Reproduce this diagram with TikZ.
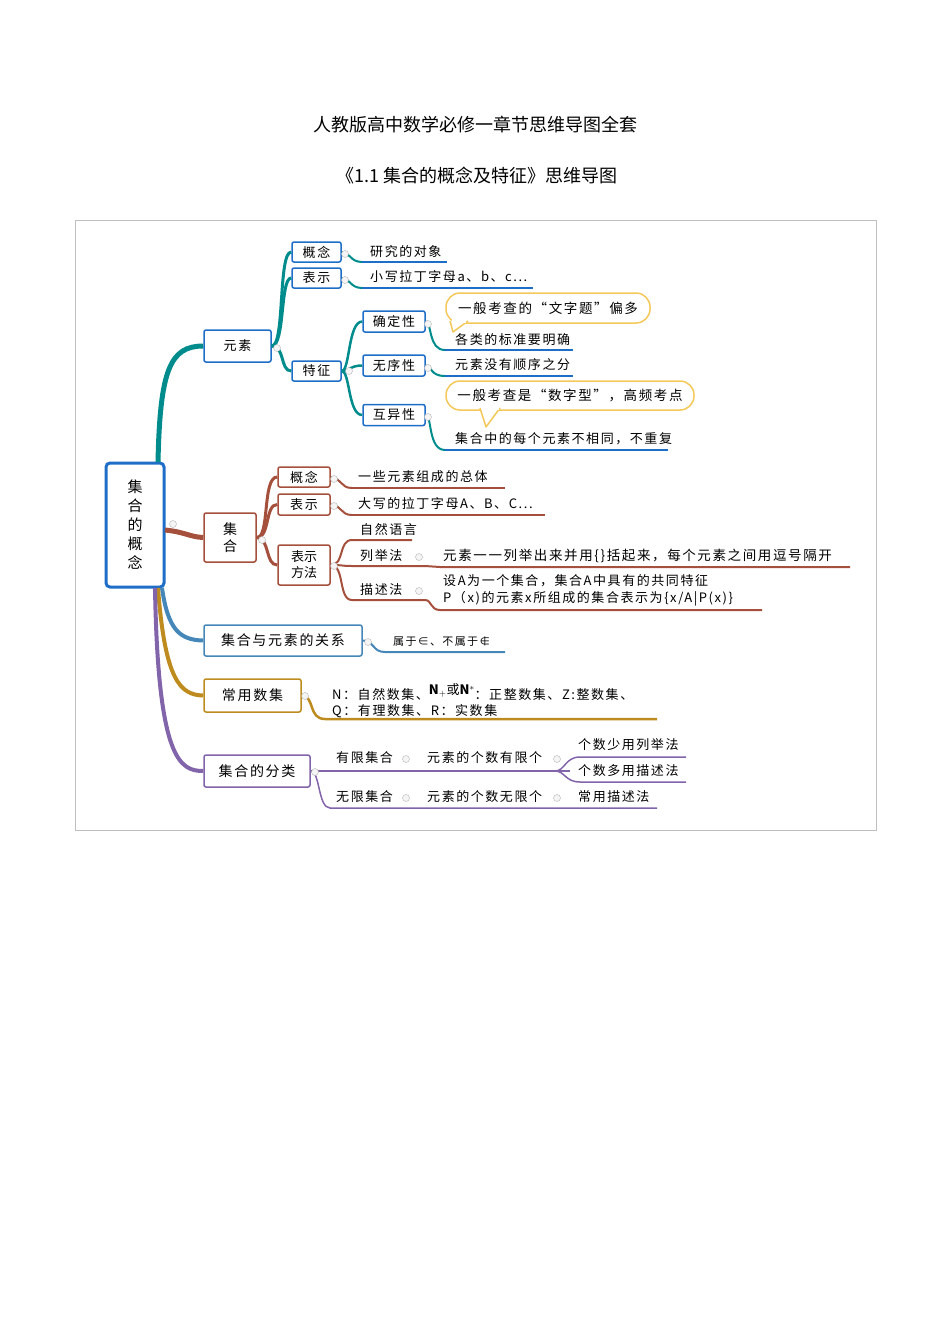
\documentclass[tikz,border=0pt]{standalone}
\usepackage{fontspec}
\setmainfont{Noto Sans CJK SC}
\newfontfamily\wide[LetterSpace=12]{Noto Sans CJK SC}
\definecolor{cT}{RGB}{0,140,140}
\definecolor{cB}{RGB}{165,80,60}
\definecolor{cS}{RGB}{70,135,185}
\definecolor{cG}{RGB}{190,140,30}
\definecolor{cP}{RGB}{130,100,170}
\definecolor{cN}{RGB}{30,110,200}
\definecolor{cY}{RGB}{245,200,90}
\begin{document}
\begin{tikzpicture}[x=1pt,y=-1pt,
  box/.style={draw=#1,line width=1.5pt,rounded corners=2pt,fill=white,inner sep=0pt,align=center,font=\wide\fontsize{13}{15}\selectfont},
  lbl/.style={anchor=west,inner sep=0pt,font=\wide\fontsize{13}{16}\selectfont,align=left},
  knob/.style={circle,draw=gray!60,fill=gray!8,inner sep=0pt,minimum size=7pt},
  bubble/.style={draw=cY,line width=1.5pt,fill=white,rounded corners=14pt,font=\wide\fontsize{13.5}{15}\selectfont}]
\useasboundingbox (0,0) rectangle (950,1344);
\node[font=\fontsize{18}{20}\selectfont] (t1) at (475,125) {人教版高中数学必修一章节思维导图全套};
\node[font=\fontsize{18}{20}\selectfont] (t2) at (477,176) {《1.1 集合的概念及特征》思维导图};
\draw[gray!50] (75,220) rectangle (876,830);

% root
\node[draw=cN,line width=3pt,rounded corners=4pt,minimum width=58pt,minimum height=124pt,align=center,font=\fontsize{15}{19}\selectfont] (root) at (135,525) {集\\合\\的\\概\\念};

% ---- 元素 (teal)
\node[box=cN,minimum width=67pt,minimum height=32pt] (ys) at (237.5,346) {元素};
\draw[cT,line width=5pt] (158,462) .. controls (160,370) and (170,346) .. (ys.west);
\node[box=cN,minimum width=49pt,minimum height=20pt] (gn1) at (316.5,252) {概念};
\node[box=cN,minimum width=49pt,minimum height=20pt] (bs1) at (316.5,278) {表示};
\node[box=cN,minimum width=49pt,minimum height=20pt] (tz) at (316.5,371) {特征};
\draw[cT,line width=3pt] (ys.east) .. controls (285,346) and (278,252) .. (gn1.west);
\draw[cT,line width=3pt] (ys.east) .. controls (285,346) and (280,278) .. (bs1.west);
\draw[cT,line width=3pt] (ys.east) .. controls (285,346) and (280,371) .. (tz.west);
\node[lbl] (a1) at (370,252) {研究的对象};
\node[lbl] (a2) at (370,277) {小写拉丁字母a、b、c...};
\draw[cT,line width=2pt] (gn1.east) .. controls (350,252) and (350,262) .. (362,262);
\draw[cN,line width=1.5pt] (362,262) -- (447,262);
\draw[cT,line width=2pt] (bs1.east) .. controls (350,278) and (350,288) .. (362,288);
\draw[cN,line width=1.5pt] (362,288) -- (533,288);
\node[box=cN,minimum width=62pt,minimum height=21pt] (qd) at (394,321.5) {确定性};
\node[box=cN,minimum width=62pt,minimum height=21pt] (wx) at (394,365.5) {无序性};
\node[box=cN,minimum width=62pt,minimum height=21pt] (hy) at (394,415) {互异性};
\draw[cT,line width=2.5pt] (tz.east) .. controls (350,371) and (348,321.5) .. (qd.west);
\draw[cT,line width=2.5pt] (tz.east) .. controls (350,371) and (350,365.5) .. (wx.west);
\draw[cT,line width=2.5pt] (tz.east) .. controls (350,371) and (348,415) .. (hy.west);
\node[lbl] (b1) at (455,340) {各类的标准要明确};
\node[lbl] (b2) at (455,365) {元素没有顺序之分};
\node[lbl] (b3) at (455,439) {集合中的每个元素不相同，不重复};
\draw[cT,line width=2pt] (qd.east) .. controls (432,322) and (428,350) .. (445,350);
\draw[cN,line width=1.5pt] (445,350) -- (573,350);
\draw[cT,line width=2pt] (wx.east) .. controls (432,366) and (430,376) .. (445,376);
\draw[cN,line width=1.5pt] (445,376) -- (573,376);
\draw[cT,line width=2pt] (hy.east) .. controls (432,415) and (428,450) .. (445,450);
\draw[cN,line width=1.5pt] (445,450) -- (668,450);
% callouts
\node[bubble,minimum width=204pt,minimum height=30pt] (c1) at (548,308) {一般考查的“文字题”偏多};
\filldraw[draw=cY,fill=white,line width=1.5pt,line join=round] (450,321) -- (453,332) -- (468,321);
\fill[white] (451.5,319) rectangle (466,322.5);
\node[bubble,minimum width=248pt,minimum height=29pt] (c2) at (570,395.5) {一般考查是“数字型”，高频考点};
\filldraw[draw=cY,fill=white,line width=1.5pt,line join=round] (480,408) -- (486,427) -- (500,408);
\fill[white] (481.5,406) rectangle (498.5,409.5);
\foreach \p in {(345,254),(345,280),(277,348),(349,371),(428,324),(428,368),(428,417)} \node[knob] at \p {};

% ---- 集合 (brown)
\node[box=cB,minimum width=52pt,minimum height=49pt,font=\fontsize{14}{17}\selectfont] (jh) at (230,537.5) {集\\合};
\draw[cB,line width=5pt] (165,530) .. controls (185,532) and (190,537) .. (jh.west);
\node[box=cB,minimum width=52pt,minimum height=20pt] (gn2) at (304,477) {概念};
\node[box=cB,minimum width=52pt,minimum height=21pt] (bs2) at (304,504.5) {表示};
\node[box=cB,minimum width=52pt,minimum height=40pt,font=\fontsize{13}{16}\selectfont] (bsff) at (304,565) {表示\\方法};
\draw[cB,line width=3pt] (jh.east) .. controls (270,538) and (262,477) .. (gn2.west);
\draw[cB,line width=3pt] (jh.east) .. controls (270,538) and (265,504) .. (bs2.west);
\draw[cB,line width=3pt] (jh.east) .. controls (270,538) and (265,565) .. (bsff.west);
\node[lbl] (d1) at (358,477) {一些元素组成的总体};
\node[lbl] (d2) at (358,504) {大写的拉丁字母A、B、C...};
\draw[cB,line width=2pt] (gn2.east) .. controls (342,478) and (340,488) .. (352,488);
\draw[cB,line width=1.5pt] (352,488) -- (505,488);
\draw[cB,line width=2pt] (bs2.east) .. controls (342,505) and (340,515) .. (352,515);
\draw[cB,line width=1.5pt] (352,515) -- (545,515);
\node[lbl] (zr) at (360,530) {自然语言};
\node[lbl] (lj) at (360,556) {列举法};
\node[lbl] (ms) at (360,590) {描述法};
\draw[cB,line width=2pt] (bsff.east) .. controls (345,565) and (338,540) .. (352,540) -- (412,540);
\draw[cB,line width=2pt] (bsff.east) .. controls (345,565) and (340,566) .. (352,566) -- (425,566);
\draw[cB,line width=2pt] (bsff.east) .. controls (345,565) and (338,600) .. (352,600) -- (425,600);
\node[lbl,font=\wide\fontsize{13.5}{16}\selectfont] (e1) at (443,556) {元素一一列举出来并用\{\}括起来，每个元素之间用逗号隔开};
\node[lbl,font=\wide\fontsize{13}{17}\selectfont] (e2) at (443,590) {设A为一个集合，集合A中具有的共同特征\\P（x)的元素x所组成的集合表示为\{x/A|P(x)\}};
\draw[cB,line width=2pt] (425,566) .. controls (432,566) and (432,567) .. (440,567) -- (850,567);
\draw[cB,line width=2pt] (425,600) .. controls (432,600) and (430,610) .. (440,610) -- (762,610);
\foreach \p in {(173,524),(262,540),(334,479),(334,506),(334,566),(419,557),(419,591)} \node[knob] at \p {};

% ---- 关系 (steel blue)
\node[box=cS,minimum width=158pt,minimum height=31pt,font=\wide\fontsize{14}{16}\selectfont] (gx) at (283,640.5) {集合与元素的关系};
\draw[cS,line width=4pt] (162,588) .. controls (168,630) and (180,640) .. (gx.west);
\node[lbl,font=\wide\fontsize{11}{12}\selectfont] (f1) at (393,642) {属于∈、不属于∉};
\draw[cS,line width=2pt] (gx.east) .. controls (375,641) and (372,652) .. (385,652) -- (505,652);
\node[knob] at (368,642) {};

% ---- 常用数集 (gold)
\node[box=cG,minimum width=97pt,minimum height=33pt,font=\wide\fontsize{14}{16}\selectfont] (sj) at (252.5,695.5) {常用数集};
\draw[cG,line width=4pt] (158,588) .. controls (165,680) and (180,695) .. (sj.west);
\node[lbl,font=\wide\fontsize{13}{16}\selectfont] (g1) at (332,701) {N：自然数集、\raisebox{5pt}{$\mathbf{N_{+}}$或$\mathbf{N}^{*}$}：正整数集、Z:整数集、\\Q：有理数集、R：实数集};
\draw[cG,line width=2.5pt] (sj.east) .. controls (315,696) and (308,719) .. (325,719) -- (657,719);
\node[knob] at (305,696) {};

% ---- 集合的分类 (purple)
\node[box=cP,minimum width=106pt,minimum height=32pt,font=\wide\fontsize{14}{16}\selectfont] (fl) at (257,771) {集合的分类};
\draw[cP,line width=4pt] (155,588) .. controls (158,760) and (180,771) .. (fl.west);
\node[lbl] (h1) at (336,758) {有限集合};
\node[lbl] (h2) at (427,758) {元素的个数有限个};
\node[lbl] (h3) at (336,797) {无限集合};
\node[lbl] (h4) at (427,797) {元素的个数无限个};
\node[lbl] (k1) at (578,745) {个数少用列举法};
\node[lbl] (k2) at (578,771) {个数多用描述法};
\node[lbl] (k3) at (578,797) {常用描述法};
\draw[cP,line width=1.5pt] (fl.east) -- (570,771);
\draw[cP,line width=1.5pt] (fl.east) .. controls (320,771) and (318,808) .. (330,808) -- (657,808);
\draw[cP,line width=1.5pt] (555,771) .. controls (565,771) and (565,757) .. (580,757) -- (686,757);
\draw[cP,line width=1.5pt] (555,771) .. controls (565,771) and (565,782) .. (580,782) -- (686,782);
\foreach \p in {(315,772),(406,759),(406,798),(557,759),(557,798)} \node[knob] at \p {};
\end{tikzpicture}
\end{document}
